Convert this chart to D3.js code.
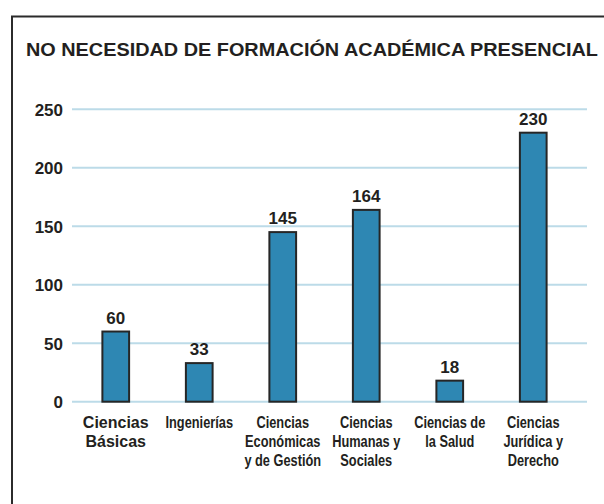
<!DOCTYPE html>
<html>
<head>
<meta charset="utf-8">
<script src="https://cdn.jsdelivr.net/npm/d3@7"></script>
<style>
  body { margin: 0; background: #fff; }
  text { fill: #231f20; font-weight: bold; }
</style>
</head>
<body>
<svg id="chart"></svg>
<script>
// Chart data
const titleText = "NO NECESIDAD DE FORMACIÓN ACADÉMICA PRESENCIAL";
const categories = [
  ["Ciencias", "Básicas"],
  ["Ingenierías"],
  ["Ciencias", "Económicas", "y de Gestión"],
  ["Ciencias", "Humanas y", "Sociales"],
  ["Ciencias de", "la Salud"],
  ["Ciencias", "Jurídica y", "Derecho"]
];
const values = [60, 33, 145, 164, 18, 230];
const yTicks = [0, 50, 100, 150, 200, 250];

// Set up dimensions
const width = 604;
const height = 504;

const svg = d3.select("#chart").attr("width", width).attr("height", height);

// Frame (open at right and bottom, like the cropped original)
svg.append("path")
  .attr("d", "M12,504 L12,16.5 L604,16.5")
  .attr("fill", "none")
  .attr("stroke", "#2b2b2b")
  .attr("stroke-width", 2);

// Title
svg.append("text")
  .attr("x", 26)
  .attr("y", 56)
  .attr("textLength", 572)
  .attr("lengthAdjust", "spacingAndGlyphs")
  .style("font-family", "'Liberation Sans', Arial, sans-serif")
  .style("font-size", "19px")
  .text(titleText);

// Scales
const xScale = d3.scaleBand()
  .domain(d3.range(values.length))
  .range([74, 575])
  .paddingInner(0.68)
  .paddingOuter(0.34);

const yScale = d3.scaleLinear().domain([0, 250]).range([401.7, 109.3]);

// Gridlines
svg.append("g")
  .selectAll("line")
  .data(yTicks)
  .join("line")
  .attr("x1", 72)
  .attr("x2", 587)
  .attr("y1", (d) => yScale(d))
  .attr("y2", (d) => yScale(d))
  .attr("stroke", "#bcdbe8")
  .attr("stroke-width", 2);

// Y axis labels
const yAxis = d3.axisLeft(yScale).tickValues(yTicks).tickSize(0).tickPadding(0);
const yAxisGroup = svg.append("g")
  .attr("transform", "translate(63, 0)")
  .call(yAxis);
yAxisGroup.select(".domain").remove();
yAxisGroup.selectAll("text")
  .attr("dy", "0.36em")
  .style("font-family", "'Liberation Sans', Arial, sans-serif")
  .style("font-size", "17px")
  .style("font-weight", "bold")
  .attr("fill", "#231f20");

// Bars
svg.append("g")
  .selectAll("rect")
  .data(values)
  .join("rect")
  .attr("x", (d, i) => xScale(i))
  .attr("y", (d) => yScale(d))
  .attr("width", xScale.bandwidth())
  .attr("height", (d) => yScale(0) - yScale(d))
  .attr("fill", "#2e87b3")
  .attr("stroke", "#262626")
  .attr("stroke-width", 2);

// Value labels
svg.append("g")
  .selectAll("text")
  .data(values)
  .join("text")
  .attr("x", (d, i) => xScale(i) + xScale.bandwidth() / 2)
  .attr("y", (d) => yScale(d) - 8)
  .attr("text-anchor", "middle")
  .style("font-family", "'Liberation Sans', Arial, sans-serif")
  .style("font-size", "17px")
  .text((d) => d);

// Category labels (all but the first are set in a condensed face)
const catGroups = svg.append("g")
  .selectAll("text")
  .data(categories)
  .join("text")
  .attr("text-anchor", "middle")
  .attr("transform", (d, i) => {
    const cx = xScale(i) + xScale.bandwidth() / 2;
    return i === 0 ? `translate(${cx}, 428)` : `translate(${cx}, 428) scale(0.8, 1)`;
  })
  .style("font-family", "'Liberation Sans', Arial, sans-serif")
  .style("font-size", "16px");

catGroups.selectAll("tspan")
  .data((d) => d)
  .join("tspan")
  .attr("x", 0)
  .attr("y", (d, j) => j * 19)
  .text((d) => d);
</script>
</body>
</html>
